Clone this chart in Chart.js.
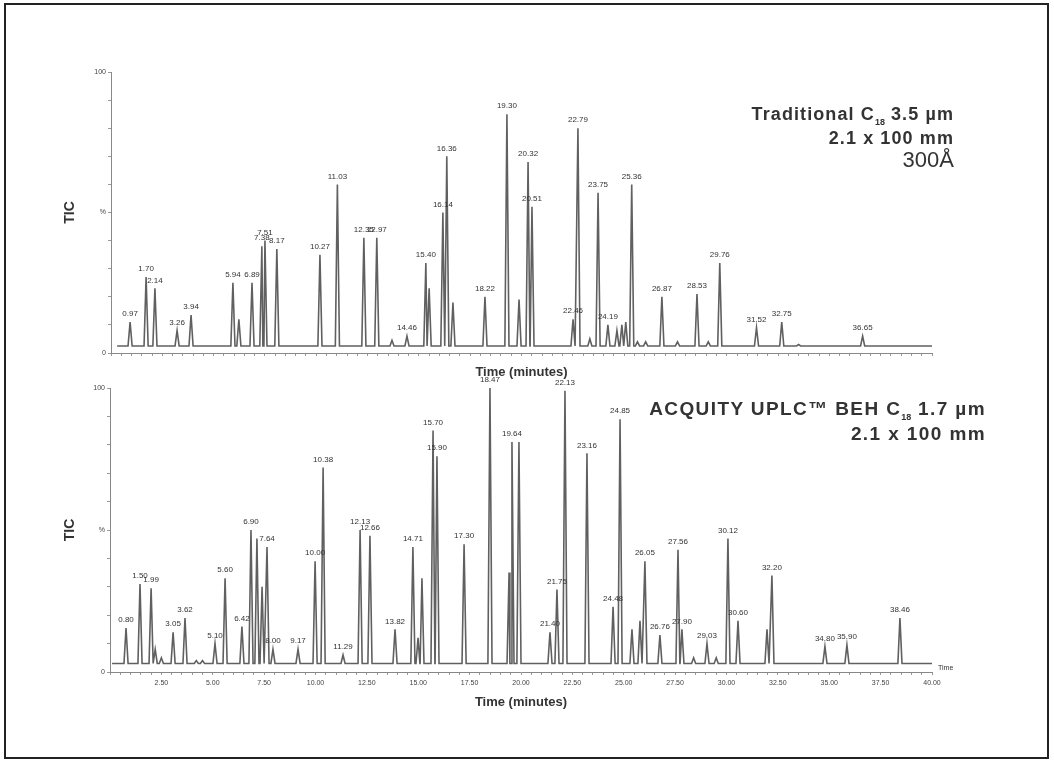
<!DOCTYPE html>
<html>
<head>
<meta charset="utf-8">
<script src="https://cdn.jsdelivr.net/npm/chart.js@4/dist/chart.umd.min.js"></script>
<style>
  body { margin: 0; background: #fff; font-family: "Liberation Sans", Arial, sans-serif; }
  #frame { position: absolute; left: 4px; top: 3px; width: 1041px; height: 752px; border: 2px solid #222; }
  canvas { position: absolute; left: 0; }
  #chartTop { top: 0; }
  #chartBottom { top: 360px; }
  .note { position: absolute; color: #333; font-weight: bold; white-space: nowrap; text-align: right; }
  .note sub { font-size: 9px; letter-spacing: 0; }
</style>
</head>
<body>
<div id="frame"></div>
<canvas id="chartTop" width="1054" height="385"></canvas>
<canvas id="chartBottom" width="1054" height="400"></canvas>

<div class="note" style="right:100px; top:104px; font-size:18px; letter-spacing:1.1px;">Traditional C<sub>18</sub> 3.5 µm</div>
<div class="note" style="right:100px; top:128px; font-size:18px; letter-spacing:1.1px;">2.1 x 100 mm</div>
<div class="note" style="right:100px; top:147px; font-size:22px; font-weight:normal;">300Å</div>
<div class="note" style="right:68px; top:398px; font-size:19px; letter-spacing:1.4px;">ACQUITY UPLC™ BEH C<sub>18</sub> 1.7 µm</div>
<div class="note" style="right:68px; top:423px; font-size:19px; letter-spacing:1.4px;">2.1 x 100 mm</div>
<div class="note" style="left:938px; top:664px; font-size:7px; font-weight:normal;">Time</div>

<script>
// Traditional C18 column - peak retention times (min), heights (%) and labels
const topTimes = [0.93, 1.71, 2.14, 3.22, 3.90, 5.94, 6.23, 6.87, 7.35, 7.50, 8.08, 10.18, 11.03, 12.32, 12.95, 13.69, 14.42,
    15.34, 15.50, 16.17, 16.36, 16.66, 18.22, 19.29, 19.88, 20.32, 20.51, 22.51, 22.75, 23.33, 23.73, 24.21, 24.65, 24.89,
    25.08, 25.37, 25.65, 26.05, 26.84, 27.60, 28.55, 29.10, 29.66, 31.45, 32.68, 33.50, 36.62];
const topHeights = [11, 27, 23, 8, 13.5, 25, 12, 25, 38, 40, 37, 35, 60, 41, 41, 4.5, 6,
    32, 23, 50, 70, 18, 20, 85, 19, 68, 52, 12, 80, 5, 57, 10, 8, 10,
    11, 60, 4, 4, 20, 4, 21, 4, 32, 9, 11, 3, 6];
const topLabels = ['0.97', '1.70', '2.14', '3.26', '3.94', '5.94', '', '6.89', '7.38', '7.51', '8.17', '10.27', '11.03', '12.35', '12.97', '', '14.46',
    '15.40', '', '16.14', '16.36', '', '18.22', '19.30', '', '20.32', '20.51', '22.46', '22.79', '', '23.75', '24.19', '', '',
    '', '25.36', '', '', '26.87', '', '28.53', '', '29.76', '31.52', '32.75', '', '36.65'];
const topBase = 2.5;

// ACQUITY UPLC BEH C18 column
const bottomTimes = [0.78, 1.46, 2.00, 2.20, 2.50, 3.07, 3.65, 4.20, 4.50, 5.11, 5.60, 6.42, 6.86, 7.15, 7.40, 7.64, 7.93, 9.15,
    9.98, 10.37, 11.34, 12.17, 12.65, 13.87, 14.74, 14.99, 15.18, 15.72, 15.91, 17.23, 18.49, 19.42, 19.56, 19.90,
    21.41, 21.75, 22.14, 23.21, 24.48, 24.82, 25.40, 25.79, 26.03, 26.76, 27.64, 27.83, 28.40, 29.05, 29.50,
    30.07, 30.56, 31.97, 32.21, 34.79, 35.86, 38.44];
const bottomHeights = [15.5, 31, 29.5, 8, 5, 14, 19, 4, 4, 10, 33, 16, 50, 47, 30, 44, 8, 8,
    39, 72, 6, 50, 48, 15, 44, 12, 33, 85, 76, 45, 100, 35, 81, 81,
    14, 29, 99, 77, 23, 89, 15, 18, 39, 13, 43, 15, 5, 10, 5,
    47, 18, 15, 34, 9, 9.5, 19];
const bottomLabels = ['0.80', '1.50', '1.99', '', '', '3.05', '3.62', '', '', '5.10', '5.60', '6.42', '6.90', '', '', '7.64', '8.00', '9.17',
    '10.00', '10.38', '11.29', '12.13', '12.66', '13.82', '14.71', '', '', '15.70', '15.90', '17.30', '18.47', '', '19.64', '',
    '21.40', '21.75', '22.13', '23.16', '24.48', '24.85', '', '', '26.05', '26.76', '27.56', '27.90', '', '29.03', '',
    '30.12', '30.60', '', '32.20', '34.80', '35.90', '38.46'];
const bottomBase = 3;

const yTickText = { 0: '0', 50: '%', 100: '100' };

function buildTrace(times, heights, base, start) {
    const pts = [{ x: start, y: base }, { x: 40, y: base }];
    times.forEach((t, i) => {
        pts.push({ x: t - 0.1, y: base }, { x: t, y: heights[i] }, { x: t + 0.1, y: base });
    });
    return pts.sort((a, b) => a.x - b.x);
}

const peakLabels = {
    id: 'peakLabels',
    afterDatasetsDraw(chart, args, opts) {
        const { ctx, scales } = chart;
        ctx.save();
        ctx.font = '8px "Liberation Sans", Arial, sans-serif';
        ctx.fillStyle = '#333';
        ctx.textAlign = 'center';
        ctx.textBaseline = 'bottom';
        opts.times.forEach((t, i) => {
            if (!opts.labels[i]) return;
            ctx.fillText(opts.labels[i], scales.x.getPixelForValue(t), scales.y.getPixelForValue(opts.heights[i]) - 4);
        });
        ctx.restore();
    }
};

function makeConfig(times, heights, labels, base, start, showX, yWidth, xHeight, padding) {
    return {
        type: 'line',
        data: {
            datasets: [{
                data: buildTrace(times, heights, base, start),
                borderColor: '#606060',
                borderWidth: 1.6,
                pointRadius: 0,
                tension: 0,
                fill: false
            }]
        },
        options: {
            responsive: false,
            animation: false,
            devicePixelRatio: 1,
            layout: { padding: padding },
            plugins: {
                legend: { display: false },
                tooltip: { enabled: false },
                peakLabels: { times: times, heights: heights, labels: labels }
            },
            scales: {
                x: {
                    type: 'linear',
                    min: 0,
                    max: 40,
                    afterFit(scale) { scale.height = xHeight; },
                    border: { color: '#888', width: 1 },
                    grid: { drawOnChartArea: false, tickLength: 3, color: '#999' },
                    ticks: {
                        stepSize: 0.5,
                        autoSkip: false,
                        maxRotation: 0,
                        padding: 4,
                        color: '#444',
                        font: { size: 7, family: '"Liberation Sans", Arial' },
                        callback: (v) => {
                            if (!showX || v <= 0) return '';
                            return Math.abs(v / 2.5 - Math.round(v / 2.5)) < 1e-6 ? v.toFixed(2) : '';
                        }
                    },
                    title: {
                        display: true,
                        text: 'Time (minutes)',
                        color: '#333',
                        padding: { top: 0, bottom: 2 },
                        font: { size: 13, weight: 'bold', family: '"Liberation Sans", Arial' }
                    }
                },
                y: {
                    min: 0,
                    max: 100,
                    afterFit(scale) { scale.width = yWidth; },
                    border: { color: '#888', width: 1 },
                    grid: { drawOnChartArea: false, tickLength: 3, color: '#999' },
                    ticks: {
                        stepSize: 10,
                        padding: 2,
                        color: '#444',
                        font: { size: 7, family: '"Liberation Sans", Arial' },
                        callback: (v) => yTickText[v] !== undefined ? yTickText[v] : ''
                    },
                    title: {
                        display: true,
                        text: 'TIC',
                        color: '#333',
                        padding: 4,
                        font: { size: 14, weight: 'bold', family: '"Liberation Sans", Arial' }
                    }
                }
            }
        },
        plugins: [peakLabels]
    };
}

new Chart(document.getElementById('chartTop'),
    makeConfig(topTimes, topHeights, topLabels, topBase, 0.3, false, 53, 29,
        { left: 58, right: 122, top: 72, bottom: 3 }));

new Chart(document.getElementById('chartBottom'),
    makeConfig(bottomTimes, bottomHeights, bottomLabels, bottomBase, 0.1, true, 52, 40,
        { left: 58, right: 122, top: 28, bottom: 48 }));
</script>
</body>
</html>
